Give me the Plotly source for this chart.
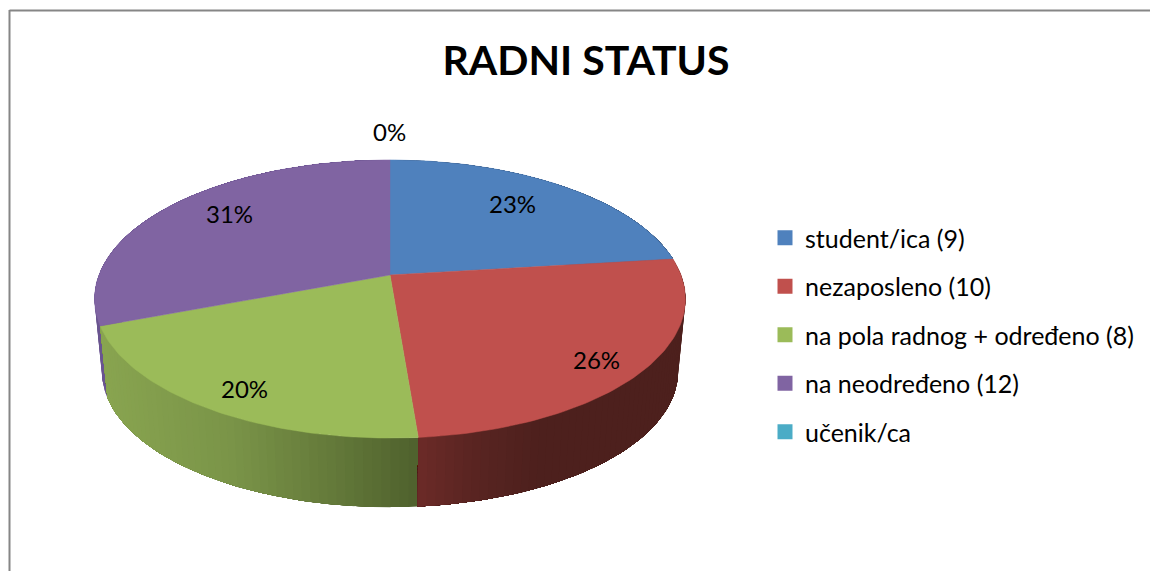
import math
import numpy as np
import plotly.graph_objects as go

title = "RADNI STATUS"
categories = ["student/ica (9)", "nezaposleno (10)", "na pola radnog + određeno (8)", "na neodređeno (12)", "učenik/ca"]
values = [9, 10, 8, 12, 0]
percent_labels = ["23%", "26%", "20%", "31%", "0%"]
top_colors = ["#4F81BD", "#C0504D", "#9BBB59", "#8064A2", "#4BACC6"]
label_x = [512, 596, 244, 229, 389]
label_y = [203, 359, 388, 213, 131]

# perspective projection of the pie disc, in picture units
CX, CY, SX, SY, K = 390.0, 275.0, 291.0, 134.9, 0.1726
BOTTOM_S, BOTTOM_CY = 0.975, 348.2


def project(theta, r=1.0, bottom=False):
    X, Y = r * math.sin(theta), r * math.cos(theta)
    w = 1 + K * Y
    s = BOTTOM_S if bottom else 1.0
    cy = BOTTOM_CY if bottom else CY
    return CX + s * SX * X / w, cy - s * SY * Y / w


def ramp(stops, x):
    xs = [p[0] for p in stops]
    return "rgb(%d,%d,%d)" % tuple(
        int(round(np.interp(x, xs, [p[1][i] for p in stops]))) for i in range(3)
    )


side_ramps = [
    [(0, (60, 90, 130)), (1150, (60, 90, 130))],
    [(418, (108, 42, 40)), (470, (90, 37, 34)), (540, (77, 32, 29)), (1150, (75, 31, 28))],
    [(95, (137, 165, 80)), (230, (122, 148, 72)), (330, (100, 122, 58)), (418, (79, 97, 45))],
    [(0, (106, 85, 144)), (1150, (106, 85, 144))],
    [(0, (75, 172, 198)), (1150, (75, 172, 198))],
]

total = sum(values)
angles = np.cumsum([0] + values) / total * 2 * math.pi

fig = go.Figure()

# side wall: overlapping shaded strips, each painted from its edge to the slice end
for i in [0, 3, 2, 1]:
    a0, a1 = angles[i], angles[i + 1]
    n = max(2, int((a1 - a0) / (2 * math.pi) * 240))
    edges = np.linspace(a0, a1, n + 1)
    for j in range(n):
        tail = edges[j:]
        top = [project(t) for t in tail]
        bot = [project(t, bottom=True) for t in tail[::-1]]
        xs = [q[0] for q in top + bot] + [top[0][0]]
        ys = [q[1] for q in top + bot] + [top[0][1]]
        colour = ramp(side_ramps[i], (project(edges[j])[0] + project(edges[j + 1])[0]) / 2)
        fig.add_trace(go.Scatter(x=xs, y=ys, mode="lines", fill="toself", fillcolor=colour,
                                 line=dict(width=0), hoverinfo="skip", showlegend=False))

# top face
for i, v in enumerate(values):
    if v == 0:
        continue
    ts = np.linspace(angles[i], angles[i + 1], 80)
    pts = [project(t) for t in ts]
    xs = [CX] + [q[0] for q in pts] + [CX]
    ys = [CY] + [q[1] for q in pts] + [CY]
    fig.add_trace(go.Scatter(x=xs, y=ys, mode="lines", fill="toself", fillcolor=top_colors[i],
                             line=dict(color=top_colors[i], width=0.5), hoverinfo="text",
                             text=categories[i], showlegend=False))

# legend entries
for i, name in enumerate(categories):
    fig.add_trace(go.Scatter(x=[None], y=[None], mode="markers", name=name, legendgroup=name,
                             marker=dict(symbol="square", size=15, color=top_colors[i])))

annotations = [
    dict(x=x, y=y, xref="x", yref="y", text=t, showarrow=False,
         font=dict(family="Lato", size=24, color="black"), xanchor="center", yanchor="middle")
    for x, y, t in zip(label_x, label_y, percent_labels)
]

shapes = [
    dict(type="line", xref="x", yref="y", x0=9.5, x1=1150, y0=10.5, y1=10.5, line=dict(color="#868686", width=2)),
    dict(type="line", xref="x", yref="y", x0=9.5, x1=9.5, y0=10, y1=571, line=dict(color="#868686", width=2)),
]

fig.update_layout(
    width=1150, height=571, margin=dict(l=0, r=0, t=0, b=0),
    paper_bgcolor="white", plot_bgcolor="white",
    title=dict(text=f"<b>{title}</b>", x=586 / 1150, xanchor="center", xref="paper",
               y=1 - 61 / 571, yanchor="middle", yref="paper",
               font=dict(family="Lato", size=41, color="black")),
    xaxis=dict(range=[0, 1150], visible=False, fixedrange=True, domain=[0, 1]),
    yaxis=dict(range=[571, 0], visible=False, fixedrange=True, domain=[0, 1]),
    legend=dict(x=765 / 1150, y=1 - 215 / 571, xanchor="left", yanchor="top", tracegroupgap=13,
                itemwidth=30, font=dict(family="Lato", size=25, color="black"), bgcolor="rgba(0,0,0,0)"),
    annotations=annotations, shapes=shapes,
)

fig.write_html("out.html", config=dict(displayModeBar=False),
               post_script="document.body.style.margin='0';document.documentElement.style.overflow='hidden';")
